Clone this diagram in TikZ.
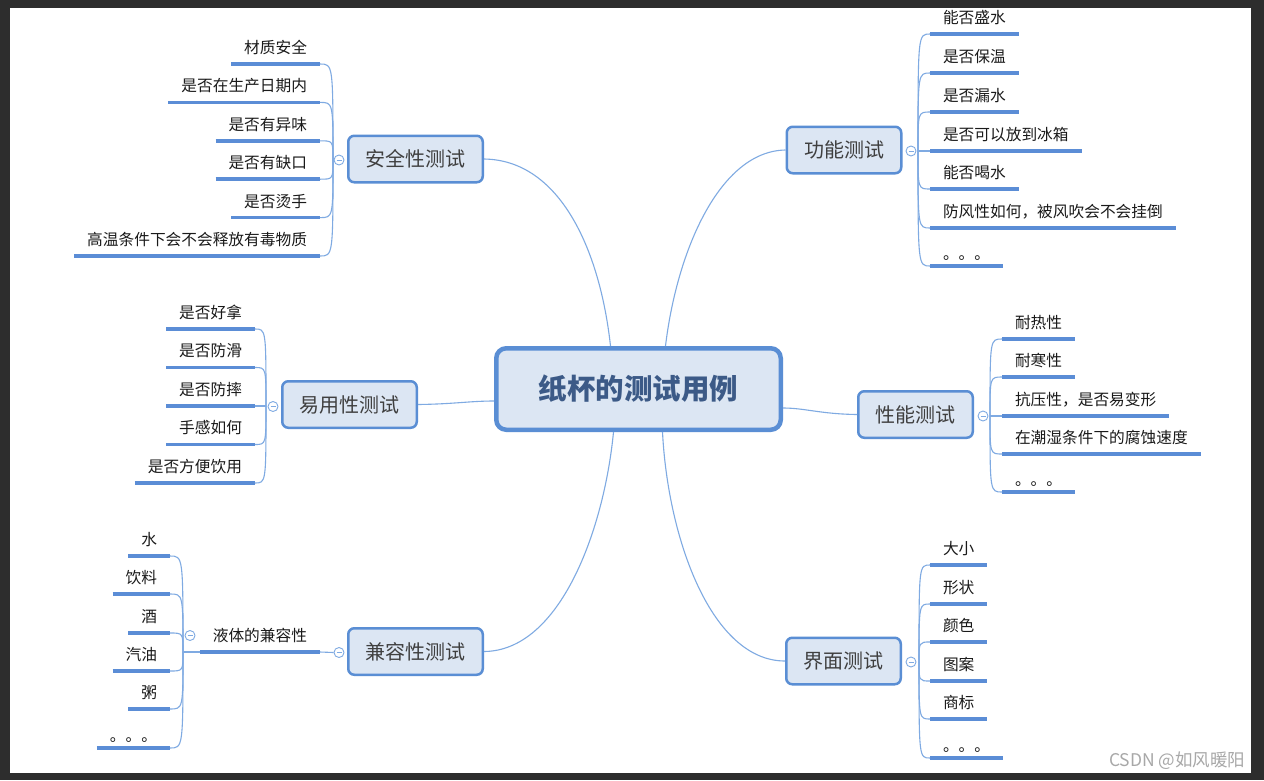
\documentclass[tikz,border=0pt]{standalone}
\usepackage{fontspec}
\setmainfont{Noto Sans CJK SC}
\usetikzlibrary{calc}
\definecolor{frame}{HTML}{2D2D2D}
\definecolor{ulblue}{HTML}{5B8DD6}
\definecolor{lnblue}{HTML}{7FAAE2}
\definecolor{boxfill}{HTML}{DCE6F3}
\definecolor{boxedge}{HTML}{5A8ED4}
\definecolor{maintext}{HTML}{3C5A87}
\definecolor{topictext}{HTML}{3F3F3F}
\definecolor{leaftext}{HTML}{1A1A1A}
\definecolor{wmgray}{HTML}{A8A8A8}
\newcommand\mydots{\raisebox{-4pt}{。。。}}
\begin{document}
\begin{tikzpicture}[x=1pt,y=-1pt,
  central/.style={draw=boxedge, line width=4.5pt, fill=boxfill, rounded corners=10pt, minimum width=284.5pt, minimum height=81.5pt, font=\fontsize{28.5}{30}\selectfont\bfseries, text=maintext, inner sep=0pt},
  topic/.style={draw=boxedge, line width=2.5pt, fill=boxfill, rounded corners=6pt, minimum height=46.5pt, inner xsep=17.25pt, inner ysep=0pt, font=\fontsize{20}{22}\selectfont, text=topictext},
  leaf/.style={inner xsep=13pt, inner ysep=7.6pt, text height=12pt, text depth=3pt, outer sep=0pt, font=\fontsize{15.7}{17}\selectfont, text=leaftext},
  lleaf/.style={leaf, anchor=south east},
  rleaf/.style={leaf, anchor=south west},
  uline/.style={draw=ulblue, line width=3.5pt},
  conn/.style={draw=lnblue, line width=1.1pt},
  fold/.style={circle, draw=lnblue, fill=white, line width=0.9pt, minimum size=10pt, inner sep=0pt,
    path picture={\draw[lnblue, line width=0.8pt] ([xshift=-2.5pt]path picture bounding box.center) -- ([xshift=2.5pt]path picture bounding box.center);}},
]
\useasboundingbox (0,0) rectangle (1264,780);
\fill[frame] (0,0) rectangle (1264,780);
\fill[white] (10,8) rectangle (1251,773);

% central and topics
\node[central] (c) at (638.5,389) {纸杯的测试用例};
\node[topic] (t1) at (415.5,159) {安全性测试};
\node[topic] (t2) at (844,150) {功能测试};
\node[topic] (t3) at (349.5,404.5) {易用性测试};
\node[topic] (t4) at (915.5,414.5) {性能测试};
\node[topic] (t5) at (415.5,651.5) {兼容性测试};
\node[topic] (t6) at (843.5,661) {界面测试};

\draw[conn] (t1.east) .. controls (560,160) and (600,250) .. ([xshift=-28pt]c.north);
\draw[conn] (t2.west) .. controls (720,151) and (677,250) .. ([xshift=27pt]c.north);
\draw[conn] (t3.east) .. controls (455,404) and (470,401) .. ([yshift=-12pt]c.west);
\draw[conn] (t4.west) .. controls (820,414) and (805,408) .. ([yshift=-19pt]c.east);
\draw[conn] (t5.east) .. controls (560,651) and (604,530) .. ([xshift=-25pt]c.south);
\draw[conn] (t6.west) .. controls (712,661) and (668,540) .. ([xshift=24pt]c.south);

% junctions
\coordinate (j1) at (333,160);
\coordinate (j2) at (918,151);
\coordinate (j3) at (266,406);
\coordinate (j4) at (990,416);
\coordinate (j5) at (183,652);
\coordinate (j6) at (919,662);

% safety
\foreach \t/\y [count=\i] in {材质安全/64,是否在生产日期内/102.4,是否有异味/140.8,是否有缺口/179.2,是否烫手/217.6,高温条件下会不会释放有毒物质/256}{
  \node[lleaf] (a\i) at (320,\y) {\t};
  \draw[uline] (a\i.south west) -- (a\i.south east);
  \draw[conn] (j1) .. controls (j1 |- a\i.south east) .. (a\i.south east);
}
% function
\foreach \t/\y [count=\i] in {能否盛水/34,是否保温/73,是否漏水/112,是否可以放到冰箱/151,能否喝水/189,防风性如何，被风吹会不会挂倒/228,\mydots/266}{
  \node[rleaf] (b\i) at (930,\y) {\t};
  \draw[uline] (b\i.south west) -- (b\i.south east);
  \draw[conn] (j2) .. controls (j2 |- b\i.south west) .. (b\i.south west);
}
% usability
\foreach \t/\y [count=\i] in {是否好拿/329,是否防滑/367.5,是否防摔/406,手感如何/444.5,是否方便饮用/483}{
  \node[lleaf] (d\i) at (255,\y) {\t};
  \draw[uline] (d\i.south west) -- (d\i.south east);
  \draw[conn] (j3) .. controls (j3 |- d\i.south east) .. (d\i.south east);
}
% performance
\foreach \t/\y [count=\i] in {耐热性/339,耐寒性/377,抗压性，是否易变形/416,在潮湿条件下的腐蚀速度/454,\mydots/492}{
  \node[rleaf] (e\i) at (1002,\y) {\t};
  \draw[uline] (e\i.south west) -- (e\i.south east);
  \draw[conn] (j4) .. controls (j4 |- e\i.south west) .. (e\i.south west);
}
% compatibility
\node[lleaf] (liq) at (320,652) {液体的兼容性};
\draw[uline] (liq.south west) -- (liq.south east);
\node[fold] (f5) at (339,652.5) {};
\draw[conn] (f5.west) -- (liq.south east);
\draw[conn] (liq.south west) -- (j5);
\foreach \t/\y [count=\i] in {水/556,饮料/594,酒/633,汽油/671,粥/709,\mydots/748}{
  \node[lleaf] (g\i) at (170,\y) {\t};
  \draw[uline] (g\i.south west) -- (g\i.south east);
  \draw[conn] (j5) .. controls (j5 |- g\i.south east) .. (g\i.south east);
}
% interface
\foreach \t/\y [count=\i] in {大小/565,形状/604,颜色/642,图案/681,商标/719,\mydots/758}{
  \node[rleaf] (h\i) at (930,\y) {\t};
  \draw[uline] (h\i.south west) -- (h\i.south east);
  \draw[conn] (j6) .. controls (j6 |- h\i.south west) .. (h\i.south west);
}

% fold markers
\node[fold] (f1) at (339,160) {};
\node[fold] (f2) at (911,151) {};
\node[fold] (f3) at (273,406.5) {};
\node[fold] (f4) at (983,416) {};
\node[fold] (f6) at (911,662) {};
\node[fold] (fl) at (190,635.5) {};

% watermark
\node[font=\fontsize{17.5}{19}\selectfont, text=wmgray, anchor=east] (wm) at (1249,761) {CSDN @如风暖阳};
\end{tikzpicture}
\end{document}
